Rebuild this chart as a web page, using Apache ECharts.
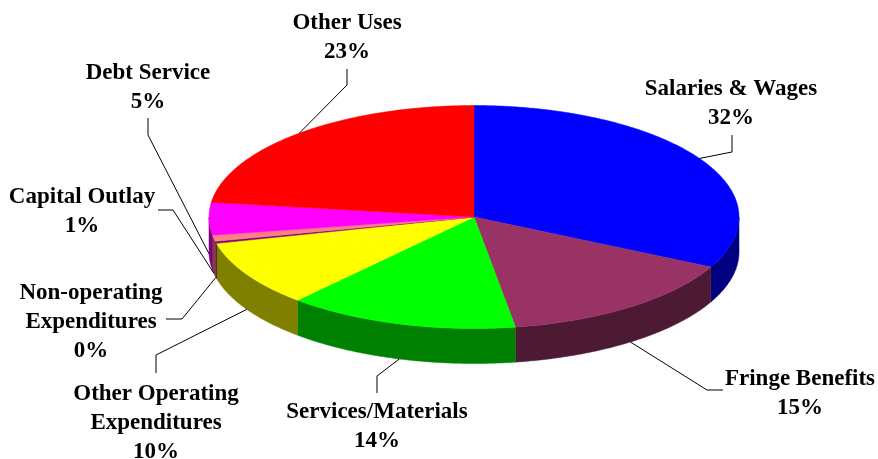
<!DOCTYPE html>
<html>
<head>
<meta charset="utf-8">
<script src="https://cdn.jsdelivr.net/npm/echarts@6/dist/echarts.min.js"></script>
<style>
  html, body { margin: 0; padding: 0; background: #ffffff; }
  #chart { width: 878px; height: 459px; }
</style>
</head>
<body>
<div id="chart"></div>
<script>
// Budget uses by category (share of total, percent)
const categories = [
  'Salaries & Wages',
  'Fringe Benefits',
  'Services/Materials',
  'Other Operating\nExpenditures',
  'Non-operating\nExpenditures',
  'Capital Outlay',
  'Debt Service',
  'Other Uses'
];
const values = [32.4, 15.1, 14.1, 9.6, 0.3, 0.9, 4.7, 22.9];

// Slice fill colours (walls are drawn at half brightness)
const sliceColors = ['#0000FF', '#993366', '#00FF00', '#FFFF00', '#800080', '#FF8080', '#FF00FF', '#FF0000'];

// Label placement: [textCenterX, textTopY, leaderStartX, leaderStartY, elbowX, elbowY]
const labelLayout = [
  [731, 75, 732, 135, 732, 152],
  [800, 365, 723, 390, 707, 390],
  [377, 398, 377, 393, 377, 376],
  [156, 380, 156, 373, 156, 355],
  [91, 279, 166, 319, 182, 319],
  [82, 183, 158, 210, 173, 210],
  [148, 59, 148, 118, 148, 135],
  [347, 9, 347, 69, 347, 85]
];

// Pie geometry: elliptical top face with an extruded wall
const PIE = { cx: 474, cy: 217, rx: 265, ry: 111.5, depth: 35 };
const LABEL_FONT = 'bold 23px "Liberation Serif", "Times New Roman", serif';

const total = values.reduce((s, v) => s + v, 0);
const cumulative = [];
values.reduce((acc, v, i) => { cumulative[i] = acc; return acc + v; }, 0);

function darken(hex, f) {
  const n = parseInt(hex.slice(1), 16);
  const r = Math.round(((n >> 16) & 255) * f);
  const g = Math.round(((n >> 8) & 255) * f);
  const b = Math.round((n & 255) * f);
  return 'rgb(' + r + ',' + g + ',' + b + ')';
}

// angle measured clockwise from 12 o'clock
function edgePoint(a, drop) {
  return [PIE.cx + PIE.rx * Math.sin(a), PIE.cy - PIE.ry * Math.cos(a) + (drop || 0)];
}

function arcPoints(a0, a1, drop) {
  const pts = [];
  const steps = Math.max(2, Math.ceil((a1 - a0) / (Math.PI / 360)));
  for (let k = 0; k <= steps; k++) {
    pts.push(edgePoint(a0 + (a1 - a0) * k / steps, drop));
  }
  return pts;
}

function renderItem(params, api) {
  const i = params.dataIndex;
  const v = api.value(0);
  const before = api.value(1);
  const a0 = before / total * Math.PI * 2;
  const a1 = (before + v) / total * Math.PI * 2;
  const color = sliceColors[i];
  const children = [];

  // outer wall, visible on the front half only
  const lo = Math.max(a0, Math.PI / 2);
  const hi = Math.min(a1, Math.PI * 1.5);
  if (lo < hi) {
    const top = arcPoints(lo, hi, 0);
    const bottom = arcPoints(lo, hi, PIE.depth).reverse();
    children.push({
      type: 'polygon',
      z2: 1,
      shape: { points: top.concat(bottom) },
      style: { fill: darken(color, 0.5), stroke: darken(color, 0.5), lineWidth: 0.5 }
    });
  }

  // top face
  children.push({
    type: 'polygon',
    z2: 2,
    shape: { points: [[PIE.cx, PIE.cy]].concat(arcPoints(a0, a1, 0)) },
    style: { fill: color, stroke: color, lineWidth: 0.5 }
  });

  // leader line to the slice's mid angle
  const mid = (a0 + a1) / 2;
  const front = mid > Math.PI / 2 && mid < Math.PI * 1.5;
  const end = edgePoint(mid, front ? PIE.depth : 0);
  const L = labelLayout[i];
  children.push({
    type: 'polyline',
    z2: 10,
    shape: { points: [[L[2], L[3]], [L[4], L[5]], end] },
    style: { stroke: '#000000', lineWidth: 1, fill: null }
  });

  // category name and rounded share
  const pct = Math.round(v / total * 100) + '%';
  children.push({
    type: 'text',
    z2: 11,
    style: {
      text: categories[i] + '\n' + pct,
      x: L[0],
      y: L[1],
      align: 'center',
      verticalAlign: 'top',
      font: LABEL_FONT,
      lineHeight: 29,
      fill: '#000000'
    }
  });

  return { type: 'group', children: children };
}

const chart = echarts.init(document.getElementById('chart'), null, { renderer: 'canvas' });
chart.setOption({
  backgroundColor: '#ffffff',
  animation: false,
  series: [{
    type: 'custom',
    coordinateSystem: 'none',
    renderItem: renderItem,
    data: values.map((v, i) => [v, cumulative[i]])
  }]
});
</script>
</body>
</html>
